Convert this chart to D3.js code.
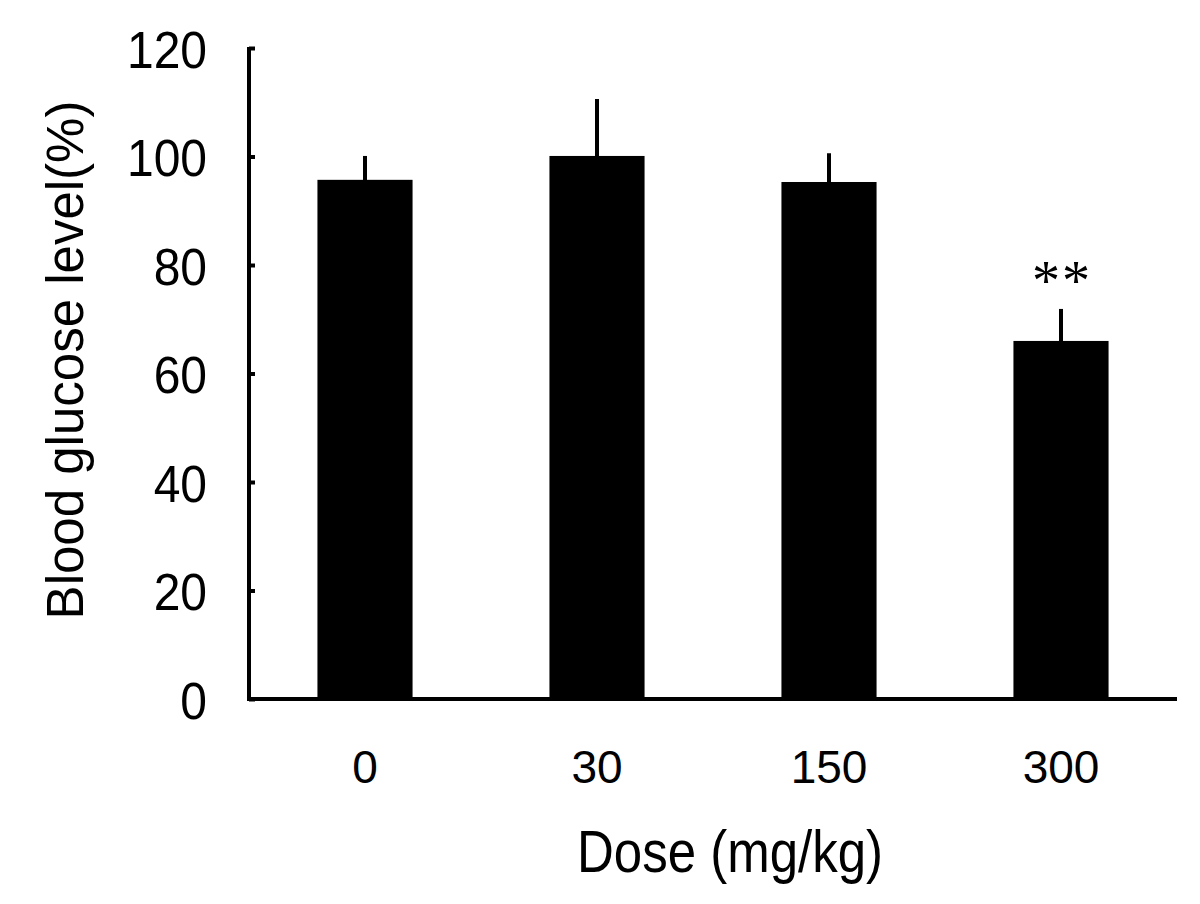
<!DOCTYPE html>
<html>
<head>
<meta charset="utf-8">
<script src="https://cdn.jsdelivr.net/npm/d3@7"></script>
<style>
  body { margin: 0; background: #fff; }
  text { font-family: Arial, "Liberation Sans", sans-serif; fill: #000; }
</style>
</head>
<body>
<div id="chart"></div>
<script>
// data
var doses = ["0", "30", "150", "300"];
var means = [95.7, 100.1, 95.3, 66.0];
var sds = [4.4, 10.5, 5.3, 5.9];
var marks = ["", "", "", "**"];
var yTicks = [0, 20, 40, 60, 80, 100, 120];

var W = 1200, H = 904;
var plotLeft = 249, plotRight = 1177, plotTop = 48, plotBottom = 699;

var svg = d3.select("#chart").append("svg")
    .attr("width", W)
    .attr("height", H);

var x = d3.scaleBand()
    .domain(doses)
    .range([plotLeft, plotRight])
    .paddingInner(0.59)
    .paddingOuter(0.295);

var y = d3.scaleLinear()
    .domain([0, 120])
    .range([plotBottom, plotTop]);

// bars
svg.selectAll("rect.bar")
    .data(means).enter()
    .append("rect")
    .attr("class", "bar")
    .attr("x", function(d, i) { return x(doses[i]) })
    .attr("y", function(d) { return y(d) })
    .attr("width", x.bandwidth())
    .attr("height", function(d) { return y(0) - y(d) })
    .style("fill", "#000");

// one-sided error bars
svg.selectAll("line.err")
    .data(means).enter()
    .append("line")
    .attr("class", "err")
    .attr("x1", function(d, i) { return x(doses[i]) + x.bandwidth() / 2 })
    .attr("x2", function(d, i) { return x(doses[i]) + x.bandwidth() / 2 })
    .attr("y1", function(d) { return y(d) + 1 })
    .attr("y2", function(d, i) { return y(d + sds[i]) })
    .style("stroke", "#000")
    .style("stroke-width", 4);

// significance marks
svg.selectAll("text.sig")
    .data(marks).enter()
    .append("text")
    .attr("class", "sig")
    .attr("x", function(d, i) { return x(doses[i]) + x.bandwidth() / 2 + 1 })
    .attr("y", function(d, i) { return y(means[i] + sds[i]) - 9 })
    .attr("text-anchor", "middle")
    .style("font-family", "'Liberation Serif', 'Times New Roman', serif")
    .style("font-size", "56px")
    .style("letter-spacing", "2px")
    .text(function(d) { return d });

// y axis, ticks pointing inward
var yAxis = svg.append("g")
    .attr("transform", "translate(" + plotLeft + ",0)")
    .call(d3.axisLeft(y).tickValues(yTicks).tickSizeInner(-6).tickSizeOuter(0).tickPadding(42));
yAxis.select(".domain").style("stroke-width", 4).attr("d", "M0," + (plotTop - 1) + "V" + (plotBottom + 2));
yAxis.selectAll(".tick line").style("stroke-width", 4);
yAxis.selectAll(".tick text")
    .style("font-family", "Arial, 'Liberation Sans', sans-serif")
    .style("font-size", "48px")
    .attr("transform", "translate(0,2) scale(1,1.08)")
    .attr("y", 0)
    .attr("dy", "0.33em");

// x axis, no ticks
var xAxis = svg.append("g")
    .attr("transform", "translate(0," + plotBottom + ")")
    .call(d3.axisBottom(x).tickSize(0).tickPadding(51));
xAxis.select(".domain").style("stroke-width", 4).attr("d", "M" + (plotLeft - 2) + ",0H" + plotRight);
xAxis.selectAll(".tick text")
    .style("font-family", "Arial, 'Liberation Sans', sans-serif")
    .style("font-size", "46px");

// axis titles
svg.append("text")
    .attr("text-anchor", "middle")
    .attr("transform", "translate(" + 83 + "," + 360 + ") rotate(-90)")
    .style("font-size", "51px")
    .text("Blood glucose level(%)");

svg.append("text")
    .attr("text-anchor", "middle")
    .attr("transform", "translate(730,872) scale(1,1.15)")
    .style("font-size", "51px")
    .text("Dose (mg/kg)");
</script>
</body>
</html>
